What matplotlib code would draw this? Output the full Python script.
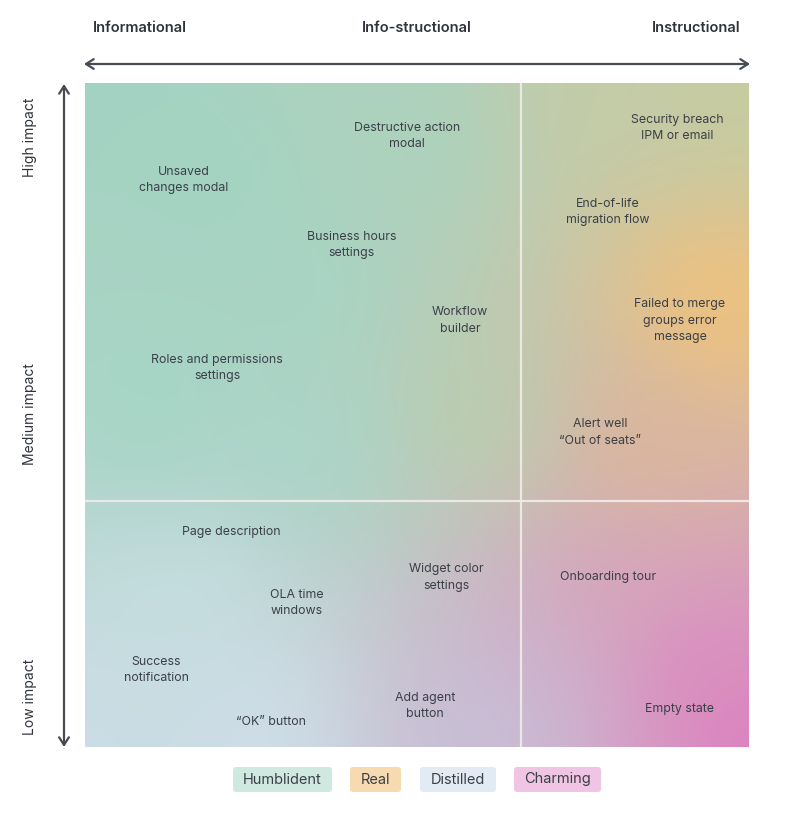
import numpy as np
import matplotlib
matplotlib.use("Agg")
import matplotlib.pyplot as plt
from matplotlib.patches import FancyBboxPatch
from matplotlib.colors import to_rgb

plt.rcParams['font.family'] = ['Inter', 'DejaVu Sans']

# ---- data ----
labels = ["Destructive action\nmodal", "Unsaved\nchanges modal", "Business hours\nsettings",
          "Workflow\nbuilder", "Roles and permissions\nsettings", "Security breach\nIPM or email",
          "End-of-life\nmigration flow", "Failed to merge\ngroups error\nmessage",
          "Alert well\n\u201cOut of seats\u201d", "Page description", "OLA time\nwindows",
          "Widget color\nsettings", "Success\nnotification", "\u201cOK\u201d button",
          "Add agent\nbutton", "Onboarding tour", "Empty state"]
x_vals = [48.5, 14.9, 40.2, 56.5, 19.9, 89.2, 78.8, 89.6, 77.6, 22.0, 31.9, 54.4, 10.7, 28.0, 51.2, 78.8, 89.6]
y_vals = [92.0, 85.4, 75.6, 64.2, 57.1, 93.2, 80.6, 64.2, 47.4, 32.4, 21.7, 25.5, 11.6, 3.8, 6.2, 25.6, 5.7]

x_divider = 65.7
y_divider = 37.0

top_labels = ["Informational", "Info-structional", "Instructional"]
side_labels = ["High impact", "Medium impact", "Low impact"]
legend_names = ["Humblident", "Real", "Distilled", "Charming"]
legend_colors = ["#D0E9E0", "#F8DAB0", "#E2EBF3", "#EFC5E3"]

# ---- background gradient anchors (style) ----
anchors = [
    (0, 100, "#A2D3C3"), (10, 52, "#A4D6C5"), (32, 68, "#A6D5C4"), (35, 45, "#A8D6C9"),
    (48, 92, "#ABD3BE"), (20, 85, "#A3D4C3"),
    (0, 0, "#CCDEE6"), (25, 3, "#D0E0EA"), (15, 20, "#C6DFE2"),
    (95, 67, "#F2C279"), (100, 0, "#DE7CC0"), (90, 12, "#DC88C0"),
    (99, 99, "#C6CCA0"), (59, 50, "#B8CFAE"), (62, 3, "#C6C4DA"), (80, 22, "#D7A4BA"),
    (80, 100, "#C3CCA8"), (84, 45, "#DDB59A"), (70, 10, "#CDB2D0"),
]

W, H = 800, 818
fig = plt.figure(figsize=(W / 100, H / 100), dpi=100)
ax = fig.add_axes([85 / W, (H - 747) / H, 664 / W, 664 / H])
ax.set_xlim(0, 100)
ax.set_ylim(0, 100)

n = 200
gx, gy = np.meshgrid(np.linspace(0, 100, n), np.linspace(0, 100, n))
acc = np.zeros((n, n, 3))
wsum = np.zeros((n, n))
for axx, ayy, c in anchors:
    d2 = (gx - axx) ** 2 + (gy - ayy) ** 2
    w = 1.0 / (d2 + 150.0) ** 1.5
    acc += w[..., None] * np.array(to_rgb(c))
    wsum += w
img = acc / wsum[..., None]
ax.imshow(img, extent=[0, 100, 0, 100], origin="lower", interpolation="bilinear", aspect="auto", zorder=0)

ax.axvline(x_divider, color="#ECE8E4", lw=1.6, zorder=1)
ax.axhline(y_divider, color="#ECE8E4", lw=1.6, zorder=1)

for lab, xv, yv in zip(labels, x_vals, y_vals):
    ax.text(xv, yv, lab, ha="center", va="center", fontsize=8.9, color="#3B4048",
            linespacing=1.5, zorder=3)

ax.set_xticks([])
ax.set_yticks([])
for s in ax.spines.values():
    s.set_visible(False)

# ---- axis arrows ----
arrow_col = "#474C52"
ax_arrow = fig.add_axes([0, 0, 1, 1], facecolor="none")
ax_arrow.set_xlim(0, W)
ax_arrow.set_ylim(H, 0)
ax_arrow.axis("off")
ax_arrow.annotate("", xy=(84, 64), xytext=(750, 64),
                  arrowprops=dict(arrowstyle="<->,head_length=0.55,head_width=0.35", color=arrow_col, lw=1.6,
                                  shrinkA=0, shrinkB=0))
ax_arrow.annotate("", xy=(64, 84), xytext=(64, 747),
                  arrowprops=dict(arrowstyle="<->,head_length=0.55,head_width=0.35", color=arrow_col, lw=1.6,
                                  shrinkA=0, shrinkB=0))

for lab, xp in zip(top_labels, [140, 417, 696]):
    ax_arrow.text(xp, 28, lab, ha="center", va="center", fontsize=10.5, fontweight="semibold", color="#2F343A")
for lab, yp in zip(side_labels, [137, 414, 697]):
    ax_arrow.text(30, yp, lab, ha="center", va="center", fontsize=10, rotation=90, color="#2F343A")

# ---- legend ----
box_x = [232, 349, 419, 513]
box_w = [101, 53, 78, 89]
for name, col, bx, bw in zip(legend_names, legend_colors, box_x, box_w):
    ax_arrow.add_patch(FancyBboxPatch((bx + 1, 767), bw - 2, 25, boxstyle="round,pad=0,rounding_size=3",
                                      facecolor=col, edgecolor="none"))
    ax_arrow.text(bx + bw / 2, 779.5, name, ha="center", va="center", fontsize=10.5, color="#3B4048")

fig.savefig("out.png", dpi=100)
